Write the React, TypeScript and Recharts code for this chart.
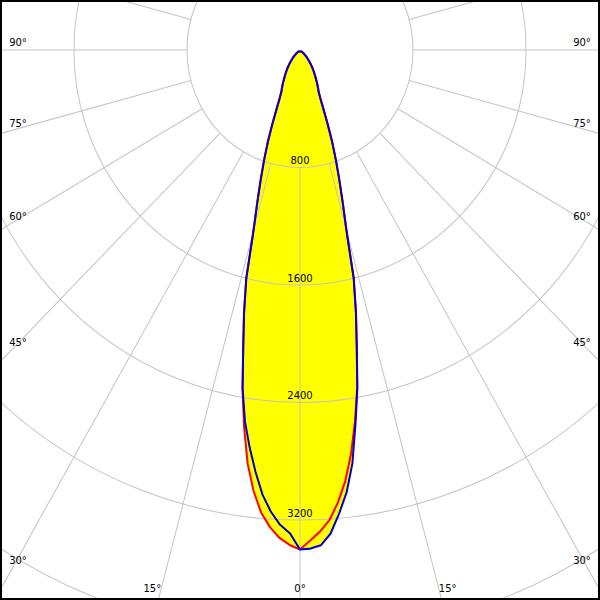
import { RadarChart, Radar, PolarGrid, PolarAngleAxis, PolarRadiusAxis } from 'recharts';

// luminous intensity (cd) read every 1.25° from nadir
const STEP = 1.25;
// 0° .. 11.25°, each half of each plane differs near the nadir
const RED_LEFT = [3400, 3370, 3325, 3255, 3160, 3020, 2840, 2600, 2345, 2060];
const RED_RIGHT = [3400, 3340, 3280, 3205, 3090, 2950, 2770, 2560, 2330, 2060];
const BLUE_LEFT = [3400, 3290, 3235, 3150, 3040, 2890, 2730, 2560, 2340, 2060];
const BLUE_RIGHT = [3400, 3395, 3375, 3300, 3170, 3030, 2840, 2580, 2340, 2060];
// 12.5° .. 50°, both planes run together here
const UPPER = [
  1830, 1600, 1270, 1080, 925, 790, 665, 540, 430, 355, 310, 290, 268, 245, 225, 207,
  190, 175, 160, 145, 130, 117, 104, 92, 81, 70, 60, 50, 40, 28, 15,
];

const RING_TICKS = [800, 1600, 2400, 3200, 4000, 4800];
const RING_LABELS = [800, 1600, 2400, 3200];
const ANGLE_TICKS = [0, 15, 30, 45, 60, 75, 90, 105, 120, 135, 150, 165, 180, 195, 210, 225, 240, 255, 270, 285, 300, 315, 330, 345];
const MAX = 4800;

// the source picture is stretched a bit vertically
const K = 1.04;
const W = 600;
const H = Math.round(600 / K);
const CX = 300;
const CY = 50 / K;
const R_OUT = 678;
const R_IN = R_OUT / 6;

const FONT = 'DejaVu Sans';
const GRID = '#c4c4c4';

const redLeft = [...RED_LEFT, ...UPPER];
const redRight = [...RED_RIGHT, ...UPPER];
const blueLeft = [...BLUE_LEFT, ...UPPER];
const blueRight = [...BLUE_RIGHT, ...UPPER];

// numeric angle c, clockwise from straight up (180 = nadir); only the lobe is listed
const N = redLeft.length;
const curveData = [
  ...redRight.map((_, i) => {
    const j = N - 1 - i;
    return { c: 180 - j * STEP, red: redRight[j], blue: blueRight[j] };
  }),
  ...redLeft.slice(1).map((_, i) => {
    const j = i + 1;
    return { c: 180 + j * STEP, red: redLeft[j], blue: blueLeft[j] };
  }),
];

const gridData = ANGLE_TICKS.map((a) => ({ a, v: 0 }));

function AngleTick({ payload }: any) {
  const g = Number(payload.value);
  const side = g <= 180 ? -1 : 1;
  const gam = g <= 180 ? g : 360 - g;
  if (gam > 90) return <g />;
  const rad = (gam * Math.PI) / 180;
  const sx = Math.sin(rad);
  const sy = Math.cos(rad) * K;
  const cy = CY * K;
  const half = W / 2 - 18;
  const bottom = 588;
  let x: number;
  let y: number;
  const ySide = sx > 0 ? cy + (half / sx) * sy : Infinity;
  if (ySide < bottom) {
    x = CX + side * half;
    y = ySide - 8 + (90 - gam) / 6;
  } else {
    const t = (bottom - cy) / sy;
    x = CX + side * (t * sx + 35 * sx);
    y = bottom;
  }
  return (
    <text x={x} y={y / K} textAnchor="middle" dominantBaseline="central" fontSize={10} fontFamily={FONT} fill="#000">
      {gam}°
    </text>
  );
}

function RingTick({ x, y, payload }: any) {
  if (!RING_LABELS.includes(payload.value)) return <g />;
  return (
    <text x={x} y={y - 3} textAnchor="middle" fontSize={10} fontFamily={FONT} fill="#000">
      {payload.value}
    </text>
  );
}

const chartProps = {
  width: W,
  height: H,
  cx: CX,
  cy: CY,
  outerRadius: R_OUT,
  margin: { top: 0, right: 0, bottom: 0, left: 0 },
};

const layer: React.CSSProperties = { position: 'absolute', left: 0, top: 0 };

function CurveAxes() {
  return (
    <>
      <PolarAngleAxis type="number" dataKey="c" domain={[0, 360]} tick={false} tickLine={false} axisLine={false} />
      <PolarRadiusAxis domain={[0, MAX]} tick={false} tickLine={false} axisLine={false} />
    </>
  );
}

export default function App() {
  return (
    <div style={{ position: 'absolute', left: 0, top: 0, width: 600, height: 600, overflow: 'hidden', background: '#fff' }}>
      <div style={{ ...layer, width: W, height: H, transform: `scaleY(${K})`, transformOrigin: '0 0' }}>
        {/* yellow area under the grid */}
        <div style={layer}>
          <RadarChart data={curveData} {...chartProps} startAngle={90} endAngle={-270}>
            {CurveAxes()}
            <Radar dataKey="red" stroke="none" fill="#ffff00" fillOpacity={1} dot={false} activeDot={false} isAnimationActive={false} />
            <Radar dataKey="blue" stroke="none" fill="#ffff00" fillOpacity={1} dot={false} activeDot={false} isAnimationActive={false} />
          </RadarChart>
        </div>
        {/* grid, rays start at the first ring */}
        <div style={layer}>
          <RadarChart data={gridData} {...chartProps} startAngle={-90} endAngle={-450}>
            <PolarGrid gridType="circle" radialLines={false} stroke={GRID} />
            <PolarAngleAxis
              dataKey="a"
              axisLine={false}
              orientation="inner"
              tickSize={R_OUT - R_IN}
              stroke={GRID}
              tickLine={{ stroke: GRID }}
              tick={AngleTick}
            />
            <PolarRadiusAxis angle={-90} domain={[0, MAX]} ticks={RING_TICKS} axisLine={false} tickLine={false} tick={RingTick} />
            <Radar dataKey="v" stroke="none" fill="none" dot={false} activeDot={false} isAnimationActive={false} />
          </RadarChart>
        </div>
        {/* curve outlines on top */}
        <div style={layer}>
          <RadarChart data={curveData} {...chartProps} startAngle={90} endAngle={-270}>
            {CurveAxes()}
            <Radar dataKey="red" stroke="#ff0000" strokeWidth={2} strokeLinejoin="round" fill="none" dot={false} activeDot={false} isAnimationActive={false} />
            <Radar dataKey="blue" stroke="#0000d0" strokeWidth={2} strokeLinejoin="round" fill="none" dot={false} activeDot={false} isAnimationActive={false} />
          </RadarChart>
        </div>
      </div>
      <div style={{ ...layer, width: 600, height: 600, border: '2px solid #000', boxSizing: 'border-box', pointerEvents: 'none' }} />
    </div>
  );
}
